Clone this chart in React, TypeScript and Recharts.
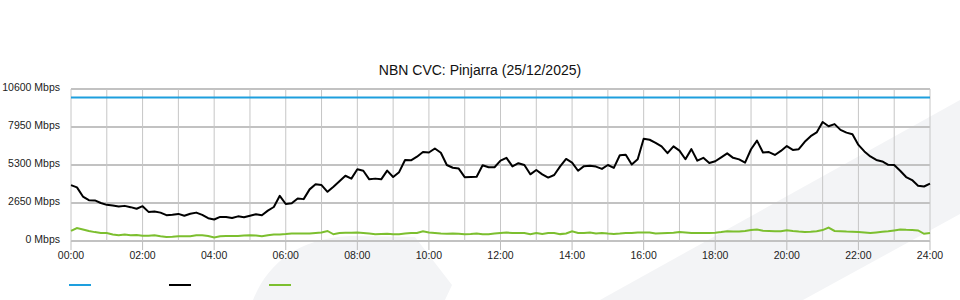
import { LineChart, Line, XAxis, YAxis, CartesianGrid, ReferenceLine } from 'recharts'

const chartTitle = 'NBN CVC: Pinjarra (25/12/2025)'
const capacityMbps = 10000
const yTicks = [0, 2650, 5300, 7950, 10600]
const xTicks = [0, 120, 240, 360, 480, 600, 720, 840, 960, 1080, 1200, 1320, 1440]
const hourLines = [0, 60, 120, 180, 240, 300, 360, 420, 480, 540, 600, 660, 720, 780, 840, 900, 960, 1020, 1080, 1140, 1200, 1260, 1320, 1380, 1440]

// 10 minute samples, Mbps
const traffic = [
  3900, 3740, 3100, 2850, 2830, 2650, 2520, 2470, 2400, 2450,
  2360, 2250, 2430, 2030, 2060, 1980, 1800, 1830, 1890, 1760,
  1900, 1980, 1820, 1590, 1500, 1680, 1680, 1600, 1720, 1660,
  1760, 1860, 1800, 2120, 2370, 3150, 2580, 2630, 2970, 2920,
  3600, 3950, 3900, 3430, 3785, 4170, 4550, 4350, 5000, 4900,
  4300, 4350, 4300, 4910, 4460, 4800, 5650, 5630, 5880, 6210,
  6170, 6450, 6150, 5300, 5110, 5050, 4450, 4470, 4480, 5280,
  5145, 5145, 5600, 5800, 5200, 5426, 5300, 4650, 4950, 4650,
  4420, 4600, 5200, 5720, 5468, 4900, 5220, 5250, 5188, 5030,
  5300, 5100, 5980, 6020, 5330, 5700, 7130, 7060, 6850, 6600,
  6127, 6600, 6300, 5700, 6407, 5600, 5800, 5440, 5560, 5830,
  6110, 5800, 5690, 5468, 6400, 7000, 6170, 6200, 6000, 6280,
  6620, 6350, 6400, 6920, 7310, 7570, 8300, 8000, 8150, 7750,
  7560, 7450, 6700, 6245, 5900, 5650, 5550, 5310, 5300, 4900,
  4460, 4250, 3860, 3800, 4000,
]

const upload = [
  700, 900, 800, 700, 620, 560, 560, 450, 400, 450,
  400, 420, 370, 360, 400, 330, 280, 300, 330, 330,
  330, 400, 400, 350, 240, 330, 350, 350, 350, 380,
  400, 380, 330, 400, 450, 460, 480, 520, 520, 520,
  520, 560, 590, 700, 470, 560, 570, 580, 590, 560,
  520, 470, 490, 500, 470, 470, 520, 560, 560, 680,
  600, 560, 520, 500, 520, 500, 470, 480, 520, 470,
  470, 520, 560, 590, 560, 560, 560, 470, 560, 490,
  560, 560, 480, 520, 680, 560, 560, 600, 520, 560,
  520, 490, 520, 560, 560, 590, 600, 600, 520, 540,
  560, 580, 630, 600, 560, 560, 560, 560, 580, 620,
  680, 660, 660, 700, 760, 800, 720, 700, 680, 680,
  750, 700, 660, 630, 650, 680, 760, 940, 700, 680,
  660, 650, 630, 600, 560, 600, 640, 680, 740, 800,
  780, 770, 740, 500, 560,
]

const seriesColors = ['#1e9fde', '#000000', '#7cbf2f']

const font = 'Liberation Sans, Arial, sans-serif'

const chartData = traffic.map((v, i) => ({ t: i * 10, traffic: v, upload: upload[i] }))

const hhmm = (m: number) => `${String(Math.floor(m / 60)).padStart(2, '0')}:00`

function XTick(props: any) {
  const { x, y, payload } = props
  return (
    <text x={x} y={y} dy="0.71em" textAnchor="middle" fontSize={10.5} fill="#222" fontFamily={font}>
      {hhmm(payload.value)}
    </text>
  )
}

function YTick(props: any) {
  const { x, y, payload } = props
  return (
    <text x={x} y={y - 2} dy="0.355em" textAnchor="end" fontSize={10.5} fill="#222" fontFamily={font}>
      {`${payload.value} Mbps`}
    </text>
  )
}

export default function App() {
  return (
    <div style={{ position: 'absolute', left: 0, top: 0, width: 960, height: 300, background: '#fff', overflow: 'hidden', fontFamily: font }}>
      {/* faint watermark behind the chart */}
      <svg width={960} height={300} style={{ position: 'absolute', left: 0, top: 0 }}>
        <path d="M253,300 C268,262 300,238 350,236 L415,237 L452,285 L445,300 Z" fill="#f3f4f6" />
        <path d="M600,300 L960,100 L960,214 L803,300 Z" fill="#f3f4f6" />
      </svg>

      <div style={{ position: 'absolute', top: 62, left: 0, width: 960, textAlign: 'center', fontSize: 14, lineHeight: '16px', color: '#111' }}>
        {chartTitle}
      </div>

      <div style={{ position: 'absolute', left: 0, top: 0 }}>
        <LineChart width={960} height={300} data={chartData} margin={{ top: 89, right: 30, bottom: 29, left: 0 }}>
          <CartesianGrid vertical={false} stroke="#c2c2c2" strokeWidth={2} />
          <CartesianGrid horizontal={false} verticalValues={hourLines} stroke="#c6c6c6" strokeWidth={1} />
          <XAxis
            type="number"
            dataKey="t"
            domain={[0, 1440]}
            ticks={xTicks}
            interval={0}
            height={30}
            tickSize={9}
            axisLine={false}
            tickLine={{ stroke: '#bdbdbd' }}
            tick={<XTick />}
          />
          <YAxis
            domain={[0, 10600]}
            ticks={yTicks}
            interval={0}
            width={71}
            tickSize={0}
            tickMargin={11}
            axisLine={false}
            tickLine={false}
            tick={<YTick />}
          />
          <ReferenceLine y={capacityMbps} stroke={seriesColors[0]} strokeWidth={2} />
          <Line type="linear" dataKey="upload" stroke={seriesColors[2]} strokeWidth={2} dot={false} isAnimationActive={false} />
          <Line type="linear" dataKey="traffic" stroke={seriesColors[1]} strokeWidth={2} strokeLinejoin="round" dot={false} isAnimationActive={false} />
        </LineChart>
      </div>

      {seriesColors.map((c, i) => (
        <div key={c} style={{ position: 'absolute', top: 284, left: 69 + i * 100, width: 22, height: 2, background: c }} />
      ))}
    </div>
  )
}
